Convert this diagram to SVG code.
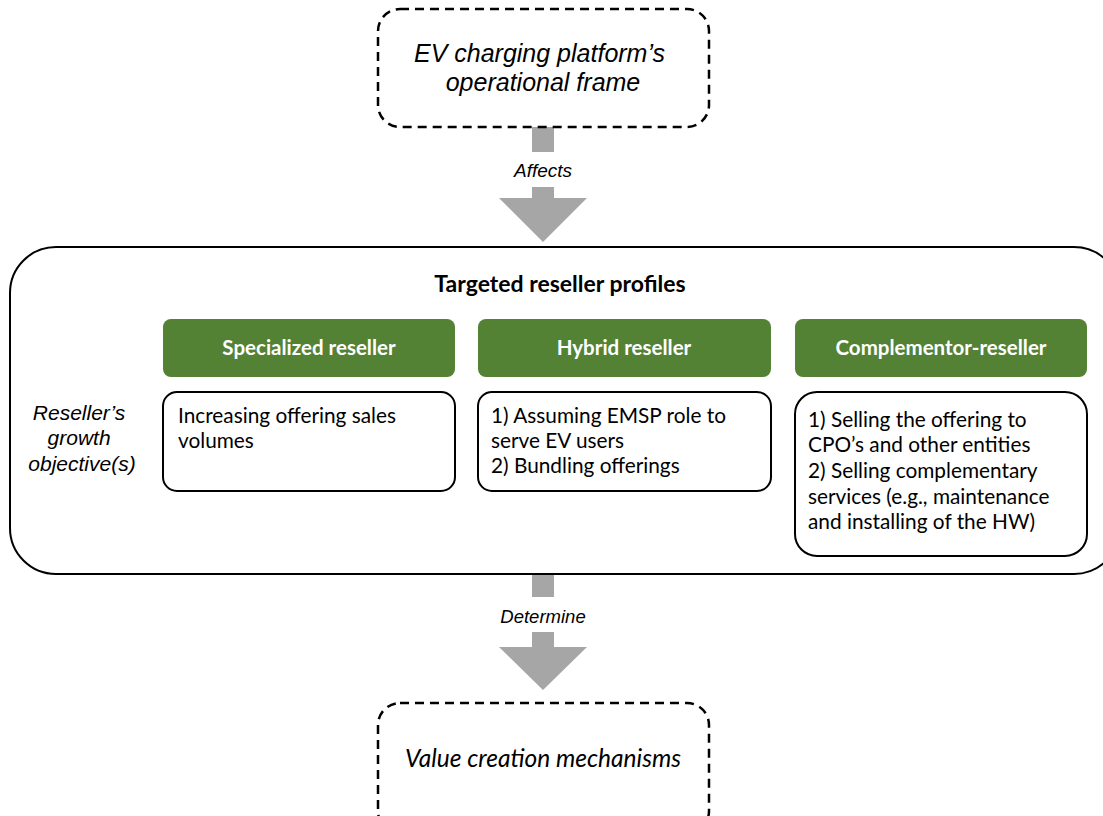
<svg xmlns="http://www.w3.org/2000/svg" width="1103" height="816" viewBox="0 0 1103 816">
  <style>
    .dash { fill: #ffffff; stroke: #000000; stroke-width: 2.5; stroke-dasharray: 9 6; }
    .frame { fill: #ffffff; stroke: #000000; stroke-width: 2; }
    .head { fill: #548235; }
    .card { fill: #ffffff; stroke: #000000; stroke-width: 2; }
    .arrow { fill: #a6a6a6; }
    .ital { font-family: "Liberation Sans", Arial, sans-serif; font-style: italic; fill: #000000; }
    .body { font-family: Lato, "Open Sans", sans-serif; font-size: 20.8px; fill: #000000; }
    .bold { font-family: Lato, "Open Sans", sans-serif; font-weight: bold; }
  </style>

  <!-- connectors: thick block arrows -->
  <g id="connectors">
    <rect class="arrow" x="532" y="127" width="22" height="25"/>
    <path class="arrow" d="M532,187 H554 V198 H587 L543,242 L499,198 H532 Z"/>
    <text class="ital" x="543" y="177" font-size="19" text-anchor="middle">Affects</text>
    <rect class="arrow" x="532" y="574" width="22" height="23"/>
    <path class="arrow" d="M532,632 H554 V647 H587 L543,690 L499,647 H532 Z"/>
    <text class="ital" x="543" y="623" font-size="18.5" text-anchor="middle">Determine</text>
  </g>

  <!-- platform frame -->
  <g id="operational-frame">
    <rect class="dash" x="378" y="9" width="331" height="118" rx="22"/>
    <text class="ital" font-size="25" text-anchor="middle">
      <tspan x="543" y="62">EV charging platform’s</tspan>
      <tspan x="543" y="91">operational frame</tspan>
    </text>
  </g>

  <!-- reseller profiles container -->
  <g id="reseller-profiles">
    <rect class="frame" x="10" y="247" width="1110" height="327" rx="46"/>
    <text class="bold" x="560" y="292" font-size="23" text-anchor="middle">Targeted reseller profiles</text>
    <text class="ital" font-size="21" text-anchor="middle">
      <tspan x="82" y="420">Reseller’s</tspan>
      <tspan x="82" y="445">growth</tspan>
      <tspan x="82" y="471">objective(s)</tspan>
    </text>
  </g>

  <g id="specialized-reseller">
    <rect class="head" x="163" y="319" width="292" height="58" rx="8"/>
    <text class="bold" x="309" y="355" font-size="20.5" fill="#ffffff" text-anchor="middle">Specialized reseller</text>
    <rect class="card" x="163" y="392" width="292" height="99" rx="14"/>
    <text class="body">
      <tspan x="178" y="423">Increasing offering sales</tspan>
      <tspan x="178" y="448">volumes</tspan>
    </text>
  </g>

  <g id="hybrid-reseller">
    <rect class="head" x="478" y="319" width="293" height="58" rx="8"/>
    <text class="bold" x="624" y="355" font-size="20.5" fill="#ffffff" text-anchor="middle">Hybrid reseller</text>
    <rect class="card" x="478" y="392" width="293" height="99" rx="14"/>
    <text class="body">
      <tspan x="491" y="423">1) Assuming EMSP role to</tspan>
      <tspan x="491" y="448">serve EV users</tspan>
      <tspan x="491" y="473">2) Bundling offerings</tspan>
    </text>
  </g>

  <g id="complementor-reseller">
    <rect class="head" x="795" y="319" width="292" height="58" rx="8"/>
    <text class="bold" x="941" y="355" font-size="20.5" fill="#ffffff" text-anchor="middle">Complementor-reseller</text>
    <rect class="card" x="795" y="392" width="292" height="164" rx="22"/>
    <text class="body">
      <tspan x="808" y="427">1) Selling the offering to</tspan>
      <tspan x="808" y="452">CPO’s and other entities</tspan>
      <tspan x="808" y="478">2) Selling complementary</tspan>
      <tspan x="808" y="504">services (e.g., maintenance</tspan>
      <tspan x="808" y="529">and installing of the HW)</tspan>
    </text>
  </g>

  <!-- outcome frame -->
  <g id="value-creation">
    <rect class="dash" x="378" y="703" width="331" height="130" rx="22"/>
    <text x="543" y="767" font-family="Lato, 'Open Sans', sans-serif" font-style="italic" font-size="24.5" text-anchor="middle">Value creation mechanisms</text>
  </g>
</svg>
